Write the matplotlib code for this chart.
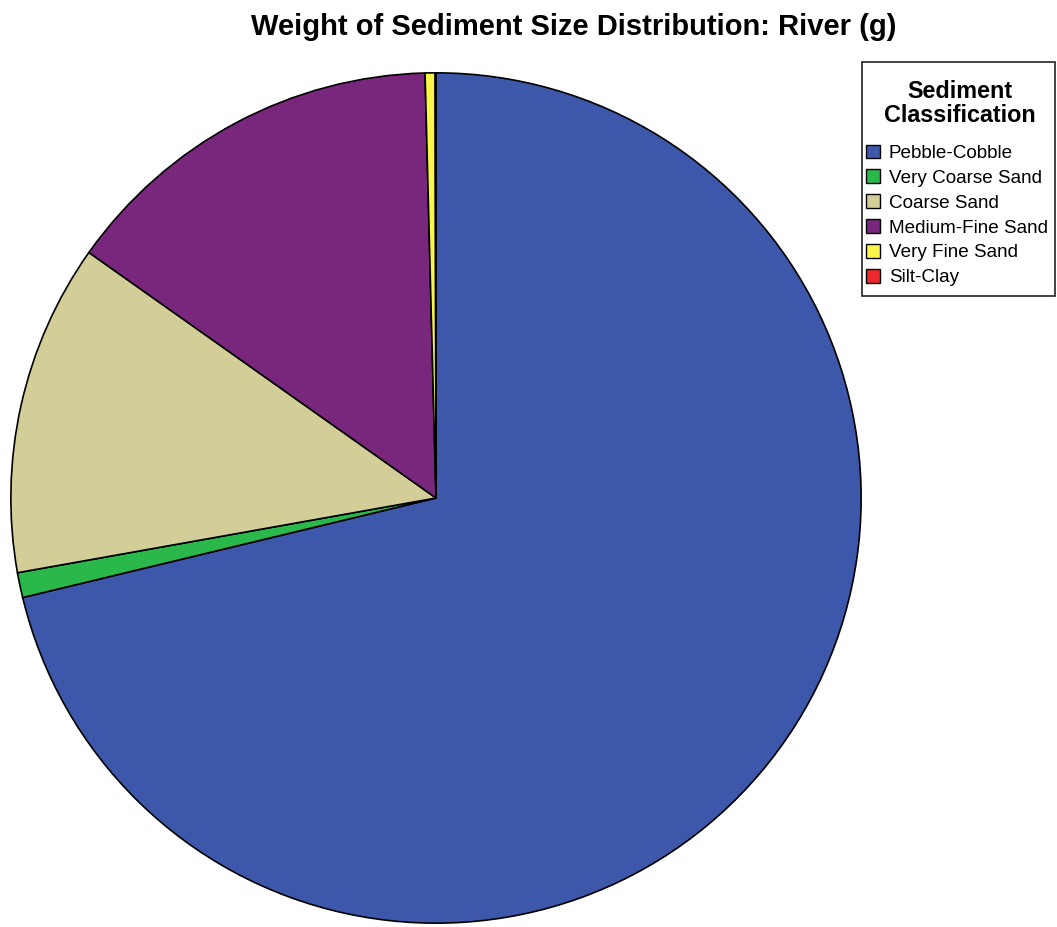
import matplotlib.pyplot as plt
from matplotlib.patches import Patch, Rectangle

plt.rcParams['font.family'] = ['Liberation Sans', 'DejaVu Sans']

# sediment weight share
categories = ["Pebble-Cobble", "Very Coarse Sand", "Coarse Sand",
              "Medium-Fine Sand", "Very Fine Sand", "Silt-Clay"]
weights = [71.23, 0.95, 12.61, 14.79, 0.38, 0.03]
colors = ["#3D58AA", "#2BB84A", "#D3CD98", "#79277C", "#FAF54A", "#EE2A2E"]

W, H = 1057, 927
fig = plt.figure(figsize=(W / 100, H / 100), dpi=100)

cx, cy, r = 436, 498, 426
ax = fig.add_axes([(cx - r) / W, (H - cy - r) / H, 2 * r / W, 2 * r / H])
ax.pie(weights, colors=colors, startangle=90, counterclock=False, radius=1,
       wedgeprops=dict(edgecolor="black", linewidth=1.2))
ax.set_xlim(-1.002, 1.002)
ax.set_ylim(-1.002, 1.002)
ax.set_aspect("equal")
ax.axis("off")

fig.text(574 / W, 1 - 27 / H, "Weight of Sediment Size Distribution: River (g)",
         ha="center", va="center", fontsize=21, fontweight="bold")

# legend box drawn by hand so the padding can match
fig.patches.append(Rectangle((862 / W, 1 - 296 / H), 193 / W, 234 / H,
                             transform=fig.transFigure, facecolor="white",
                             edgecolor="#222222", linewidth=1.2, zorder=1))
fig.text(960 / W, 1 - 103.5 / H, "Sediment\nClassification", ha="center",
         va="center", fontsize=16.8, fontweight="bold", linespacing=1.0,
         zorder=6)

handles = [Patch(facecolor=c, edgecolor="black", linewidth=1) for c in colors]
leg = fig.legend(handles, categories, loc="upper left",
                 bbox_to_anchor=(866 / W, 1 - 144.5 / H), fontsize=13.6,
                 frameon=False, handlelength=0.75, handleheight=0.75,
                 handletextpad=0.45, labelspacing=0.39,
                 borderpad=0, borderaxespad=0)

fig.savefig("out.png", dpi=100)
